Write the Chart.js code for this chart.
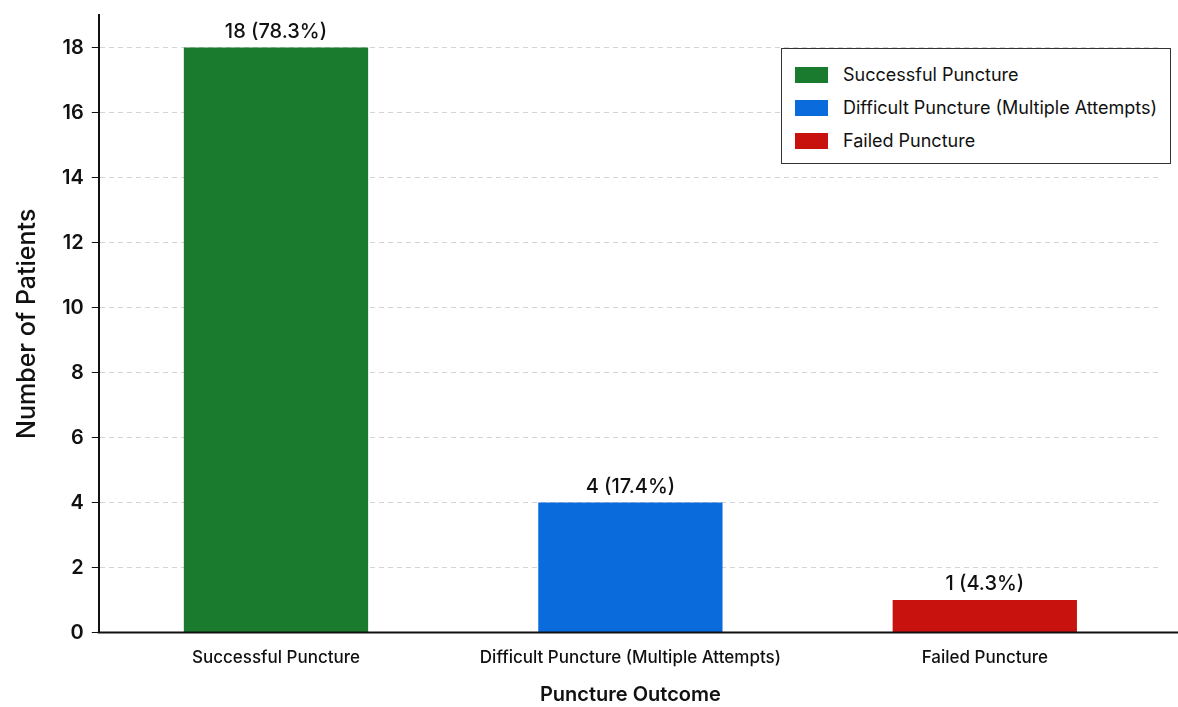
<!DOCTYPE html>
<html>
<head>
<meta charset="utf-8">
<script src="https://cdn.jsdelivr.net/npm/chart.js@4.4.1/dist/chart.umd.min.js"></script>
<style>
  html, body { margin: 0; padding: 0; background: #fff; }
  #wrap { position: relative; width: 1178px; height: 707px; }
  #legend {
    position: absolute; left: 781px; top: 48px; width: 390px; height: 116px;
    border: 1.5px solid #333; box-sizing: border-box; background: #fff;
    font-family: Inter, "Noto Sans", sans-serif; font-size: 18px; color: #111;
    padding: 9px 0 0 13px;
  }
  .item { display: flex; align-items: center; height: 33px; }
  .sw { width: 33px; height: 16px; margin-right: 15px; }
</style>
</head>
<body>
<div id="wrap">
  <canvas id="chart" width="1178" height="707"></canvas>
  <div id="legend"></div>
</div>
<script>
// datos
const categories = ['Successful Puncture', 'Difficult Puncture (Multiple Attempts)', 'Failed Puncture'];
const patients = [18, 4, 1];
const percents = ['78.3%', '17.4%', '4.3%'];
const barColors = ['#1a7a2e', '#0a6bdc', '#c8120e'];
const yTicks = [0, 2, 4, 6, 8, 10, 12, 14, 16, 18];

const font = 'Inter, "Noto Sans", sans-serif';

// leyenda dentro del área del gráfico
const legendDiv = document.getElementById('legend');
categories.forEach((c, i) => {
  const row = document.createElement('div');
  row.className = 'item';
  row.innerHTML = `<span class="sw" style="background:${barColors[i]}"></span><span>${c}</span>`;
  legendDiv.appendChild(row);
});

// etiquetas encima de cada barra + eje x hasta el borde derecho
const valueLabels = {
  id: 'valueLabels',
  afterDatasetsDraw(chart) {
    const ctx = chart.ctx;
    const meta = chart.getDatasetMeta(0);
    ctx.save();
    ctx.font = '500 20px ' + font;
    ctx.fillStyle = '#111';
    ctx.textAlign = 'center';
    ctx.textBaseline = 'bottom';
    meta.data.forEach((bar, i) => {
      ctx.fillText(`${patients[i]} (${percents[i]})`, bar.x, bar.y - 6);
    });
    ctx.restore();
  },
  afterDraw(chart) {
    const ctx = chart.ctx;
    const yb = chart.scales.y.getPixelForValue(0);
    ctx.save();
    ctx.strokeStyle = '#111';
    ctx.lineWidth = 2;
    ctx.setLineDash([]);
    ctx.beginPath();
    ctx.moveTo(chart.chartArea.left - 1, yb);
    ctx.lineTo(chart.width, yb);
    ctx.stroke();
    ctx.restore();
  }
};

new Chart(document.getElementById('chart'), {
  type: 'bar',
  data: {
    labels: categories,
    datasets: [{
      data: patients,
      backgroundColor: barColors,
      barPercentage: 0.52,
      categoryPercentage: 1.0
    }]
  },
  options: {
    responsive: false,
    animation: false,
    layout: { padding: { top: 8, right: 16, left: 12, bottom: 0 } },
    plugins: {
      legend: { display: false },
      tooltip: { enabled: false }
    },
    scales: {
      x: {
        grid: { display: false, drawTicks: false },
        border: { display: false },
        ticks: { color: '#111', font: { family: font, size: 17, weight: '500' }, padding: 15 },
        title: { display: true, text: 'Puncture Outcome', color: '#111',
                 font: { family: font, size: 20, weight: '600' }, padding: { top: 0, bottom: 0 } }
      },
      y: {
        min: 0, max: 19,
        afterBuildTicks: (axis) => { axis.ticks = yTicks.map(v => ({ value: v })); },
        grid: { color: '#d4d4d4', drawTicks: true, tickLength: 7, tickColor: '#111', tickBorderDash: [] },
        border: { color: '#111', width: 2, dash: [5, 4] },
        ticks: { color: '#111', font: { family: font, size: 20, weight: '600', lineHeight: 0.7 }, padding: 8 },
        title: { display: true, text: 'Number of Patients', color: '#111',
                 font: { family: font, size: 25, weight: '500' }, padding: { top: 0, bottom: 12 } }
      }
    }
  },
  plugins: [valueLabels]
});
</script>
</body>
</html>
